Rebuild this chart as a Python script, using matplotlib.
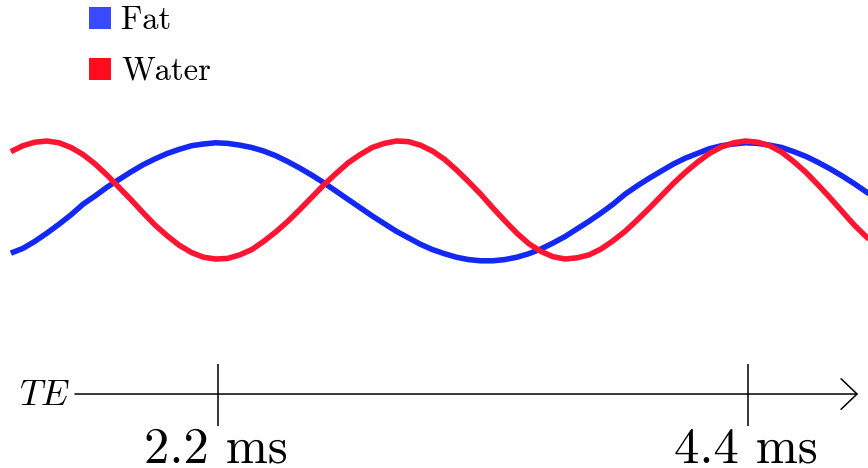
import matplotlib
matplotlib.use("Agg")
import matplotlib.pyplot as plt
from matplotlib.patches import Rectangle

plt.rcParams['mathtext.fontset'] = 'cm'

# echo time samples (ms) and relative signal
te = [1.34, 1.39, 1.44, 1.49, 1.54, 1.59, 1.64, 1.69, 1.74, 1.79,
      1.84, 1.89, 1.94, 1.99, 2.04, 2.09, 2.14, 2.19, 2.24, 2.29,
      2.34, 2.39, 2.44, 2.49, 2.54, 2.59, 2.64, 2.69, 2.74, 2.79,
      2.84, 2.89, 2.94, 2.99, 3.04, 3.09, 3.14, 3.19, 3.24, 3.29,
      3.34, 3.39, 3.44, 3.49, 3.54, 3.59, 3.64, 3.69, 3.74, 3.79,
      3.84, 3.89, 3.94, 3.99, 4.04, 4.09, 4.14, 4.19, 4.24, 4.29,
      4.34, 4.39, 4.44, 4.49, 4.54, 4.59, 4.64, 4.69, 4.74, 4.79,
      4.84, 4.89, 4.94]
fat = [-0.90, -0.82, -0.70, -0.56, -0.41, -0.25, -0.07, 0.07, 0.22, 0.35,
       0.48, 0.60, 0.70, 0.79, 0.86, 0.92, 0.95, 0.97, 0.96, 0.93,
       0.89, 0.83, 0.75, 0.65, 0.54, 0.42, 0.29, 0.15, 0.01, -0.13,
       -0.27, -0.40, -0.53, -0.64, -0.75, -0.84, -0.91, -0.97, -1.01, -1.03,
       -1.03, -1.01, -0.97, -0.91, -0.83, -0.73, -0.62, -0.49, -0.36, -0.22,
       -0.07, 0.10, 0.24, 0.37, 0.49, 0.61, 0.71, 0.79, 0.87, 0.92,
       0.95, 0.97, 0.96, 0.93, 0.89, 0.82, 0.74, 0.64, 0.53, 0.41,
       0.28, 0.14, 0.00]
water = [0.82, 0.92, 0.98, 1.00, 0.97, 0.89, 0.77, 0.61, 0.42, 0.21,
         0.00, -0.22, -0.43, -0.61, -0.77, -0.89, -0.97, -1.00, -0.99, -0.93,
         -0.84, -0.70, -0.54, -0.36, -0.16, 0.05, 0.26, 0.45, 0.63, 0.77,
         0.89, 0.96, 1.00, 0.99, 0.93, 0.83, 0.69, 0.51, 0.31, 0.10,
         -0.13, -0.35, -0.56, -0.74, -0.87, -0.96, -1.00, -0.98, -0.93, -0.83,
         -0.69, -0.53, -0.34, -0.14, 0.07, 0.28, 0.47, 0.64, 0.79, 0.90,
         0.97, 1.00, 0.98, 0.92, 0.81, 0.65, 0.47, 0.26, 0.04, -0.19,
         -0.42, -0.62, -0.79]

tick_te = [2.2, 4.4]
tick_labels = ["2.2 ms", "4.4 ms"]
legend_names = ["Fat", "Water"]

fat_color = '#1428F5'
water_color = '#FF1432'
legend_colors = ['#3A48FF', '#FF0D1F']

W, H = 868, 468
fig = plt.figure(figsize=(W / 100, H / 100), dpi=100)
ax = fig.add_axes([0, 0, 1, 1])
ax.set_xlim(1.295, 4.898)
ax.set_ylim(-4.542, 3.390)
ax.axis('off')

ax.plot(te, fat, color=fat_color, lw=4, solid_capstyle='butt')
ax.plot(te, water, color=water_color, lw=4, solid_capstyle='butt')

# time axis with arrow
axis_y = -3.288
ax.annotate('', xy=(4.857, axis_y), xytext=(1.606, axis_y),
            arrowprops=dict(arrowstyle='->,head_length=1.15,head_width=1.1',
                            lw=1.1, color='black', shrinkA=0, shrinkB=0))
ax.vlines(tick_te, -3.831, -2.780, color='black', lw=1.1)
for t, lab in zip(tick_te, tick_labels):
    ax.text(t - 0.01, -4.441, lab, family='cmr10', fontsize=36.5,
            ha='center', va='baseline')
ax.text(1.586, -3.475, r'$TE$', fontsize=26, ha='right', va='baseline')

# legend drawn by hand
for i, (name, c) in enumerate(zip(legend_names, legend_colors)):
    top = 7 + 51 * i
    fig.patches.append(Rectangle((89 / W, 1 - (top + 22) / H), 22 / W, 22 / H,
                                 transform=fig.transFigure, color=c, lw=0))
    fig.text(121 / W, 1 - (top + 22) / H, name, family='cmr10', fontsize=23.5,
             ha='left', va='baseline')

fig.savefig('out.png', dpi=100)
